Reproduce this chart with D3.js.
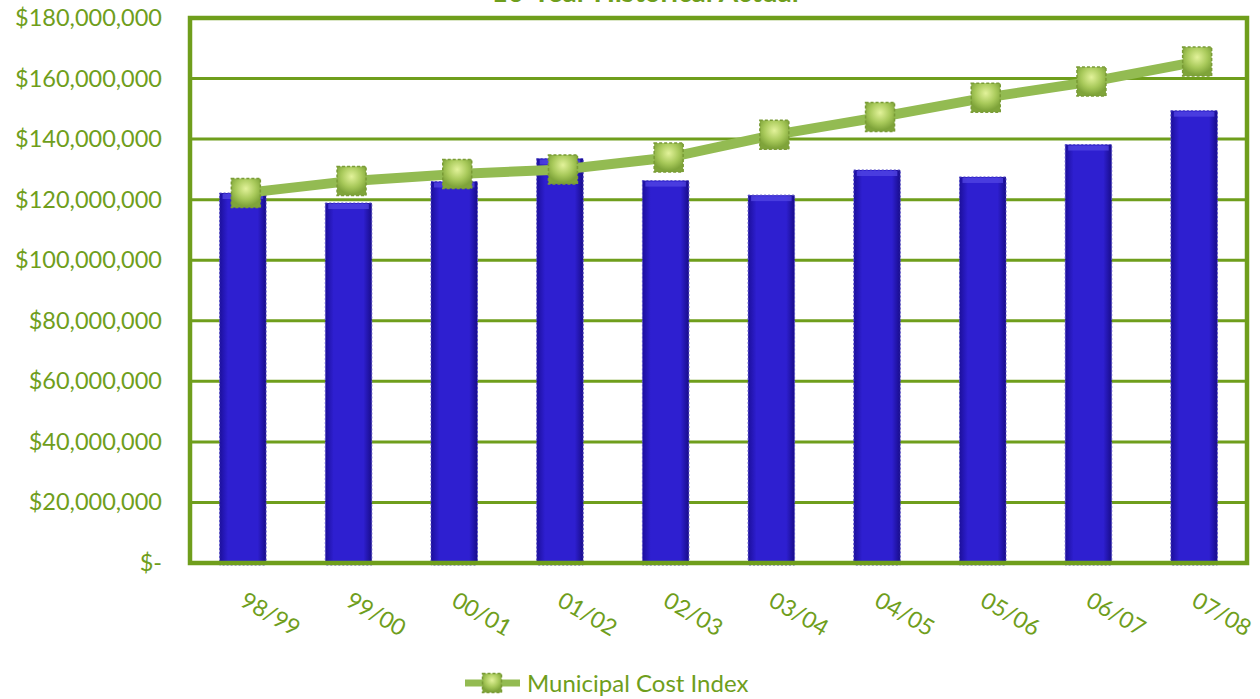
<!DOCTYPE html>
<html>
<head>
<meta charset="utf-8">
<script src="https://cdn.jsdelivr.net/npm/d3@7"></script>
<style>
  body { margin: 0; background: #fff; }
  svg { display: block; font-family: Lato, "Open Sans", sans-serif; }
</style>
</head>
<body>
<svg id="chart" width="1260" height="699"></svg>
<script>
var years = ["98/99", "99/00", "00/01", "01/02", "02/03", "03/04", "04/05", "05/06", "06/07", "07/08"];
var actual = [122200000, 118900000, 126000000, 133600000, 126300000, 121500000, 129800000, 127500000, 138200000, 149400000];
var costIndex = [122200000, 126200000, 128500000, 130000000, 133900000, 141400000, 147300000, 153700000, 159000000, 165600000];
var yTicks = [0, 20000000, 40000000, 60000000, 80000000, 100000000, 120000000, 140000000, 160000000, 180000000];

var svg = d3.select("#chart");
var green = "#6f9e1c", lineGreen = "#93bb52";
var plotL = 190, plotR = 1247, plotT = 18, plotB = 563;

var x = d3.scaleBand().domain(years).range([plotL, plotR]).paddingInner(0.56).paddingOuter(0.28);
var y = d3.scaleLinear().domain([0, 180000000]).range([plotB, plotT]);

var defs = svg.append("defs");
var bg = defs.append("linearGradient").attr("id", "barGrad");
bg.append("stop").attr("offset", "0%").attr("stop-color", "#1c0f9c");
bg.append("stop").attr("offset", "18%").attr("stop-color", "#2e1fd0");
bg.append("stop").attr("offset", "82%").attr("stop-color", "#2e1fd0");
bg.append("stop").attr("offset", "100%").attr("stop-color", "#180c8a");
var mg = defs.append("radialGradient").attr("id", "markGrad").attr("cx", "50%").attr("cy", "35%").attr("r", "60%");
mg.append("stop").attr("offset", "0%").attr("stop-color", "#e2f29a");
mg.append("stop").attr("offset", "60%").attr("stop-color", "#a8c95a");
mg.append("stop").attr("offset", "100%").attr("stop-color", "#7fa43a");

// title, mostly cut off by the top edge
svg.append("text").attr("x", 645).attr("y", 2)
  .attr("text-anchor", "middle").attr("fill", green)
  .style("font-size", "28px").style("font-weight", "bold")
  .text("10-Year Historical Actual");

// grid lines
svg.append("g").selectAll("line").data(yTicks.slice(1, -1)).join("line")
  .attr("x1", plotL).attr("x2", plotR)
  .attr("y1", d => y(d)).attr("y2", d => y(d))
  .attr("stroke", green).attr("stroke-width", 3);

// y axis labels
var fmt = d3.format(",");
svg.append("g").selectAll("text").data(yTicks).join("text")
  .attr("x", 162).attr("y", d => y(d) + 8)
  .attr("text-anchor", "end").attr("fill", green)
  .style("font-size", "23.5px")
  .text(d => d === 0 ? "$-" : "$" + fmt(d));

// bars
var bars = svg.append("g").selectAll("g").data(actual).join("g");
bars.append("rect")
  .attr("x", (d, i) => x(years[i])).attr("y", d => y(d))
  .attr("width", x.bandwidth()).attr("height", d => plotB - y(d) + 2)
  .attr("fill", "url(#barGrad)")
  .attr("stroke", "#5a52c8").attr("stroke-width", 1).attr("stroke-dasharray", "2,2");
bars.append("rect")
  .attr("x", (d, i) => x(years[i]) + 3).attr("y", d => y(d) + 1)
  .attr("width", x.bandwidth() - 6).attr("height", 5)
  .attr("fill", "#5548e6").attr("opacity", 0.7);

// frame
svg.append("rect").attr("x", plotL).attr("y", plotT)
  .attr("width", plotR - plotL).attr("height", plotB - plotT)
  .attr("fill", "none").attr("stroke", green).attr("stroke-width", 4.5);

// cost index line
var cx = (d, i) => x(years[i]) + x.bandwidth() / 2 + 3;
svg.append("path").datum(costIndex)
  .attr("d", d3.line().x(cx).y(d => y(d)))
  .attr("fill", "none").attr("stroke", lineGreen).attr("stroke-width", 10);

function marker(g, size) {
  g.append("rect").attr("x", -size / 2).attr("y", -size / 2)
    .attr("width", size).attr("height", size)
    .attr("fill", "url(#markGrad)")
    .attr("stroke", "#7a9c36").attr("stroke-width", 1.5).attr("stroke-dasharray", "3,2");
}
svg.append("g").selectAll("g").data(costIndex).join("g")
  .attr("transform", (d, i) => "translate(" + cx(d, i) + "," + y(d) + ")")
  .each(function() { marker(d3.select(this), 29); });

// x labels, rotated
svg.append("g").selectAll("text").data(years).join("text")
  .attr("transform", d => "translate(" + (x(d) + x.bandwidth() / 2 - 4) + ",605) rotate(30)")
  .attr("fill", green).style("font-size", "23px")
  .text(d => d);

// legend
var lg = svg.append("g");
lg.append("line").attr("x1", 465).attr("x2", 520).attr("y1", 683).attr("y2", 683)
  .attr("stroke", lineGreen).attr("stroke-width", 7);
var lm = lg.append("g").attr("transform", "translate(492,683)");
marker(lm, 19);
lg.append("text").attr("x", 527).attr("y", 692).attr("fill", green)
  .style("font-size", "24px").text("Municipal Cost Index");
</script>
</body>
</html>
